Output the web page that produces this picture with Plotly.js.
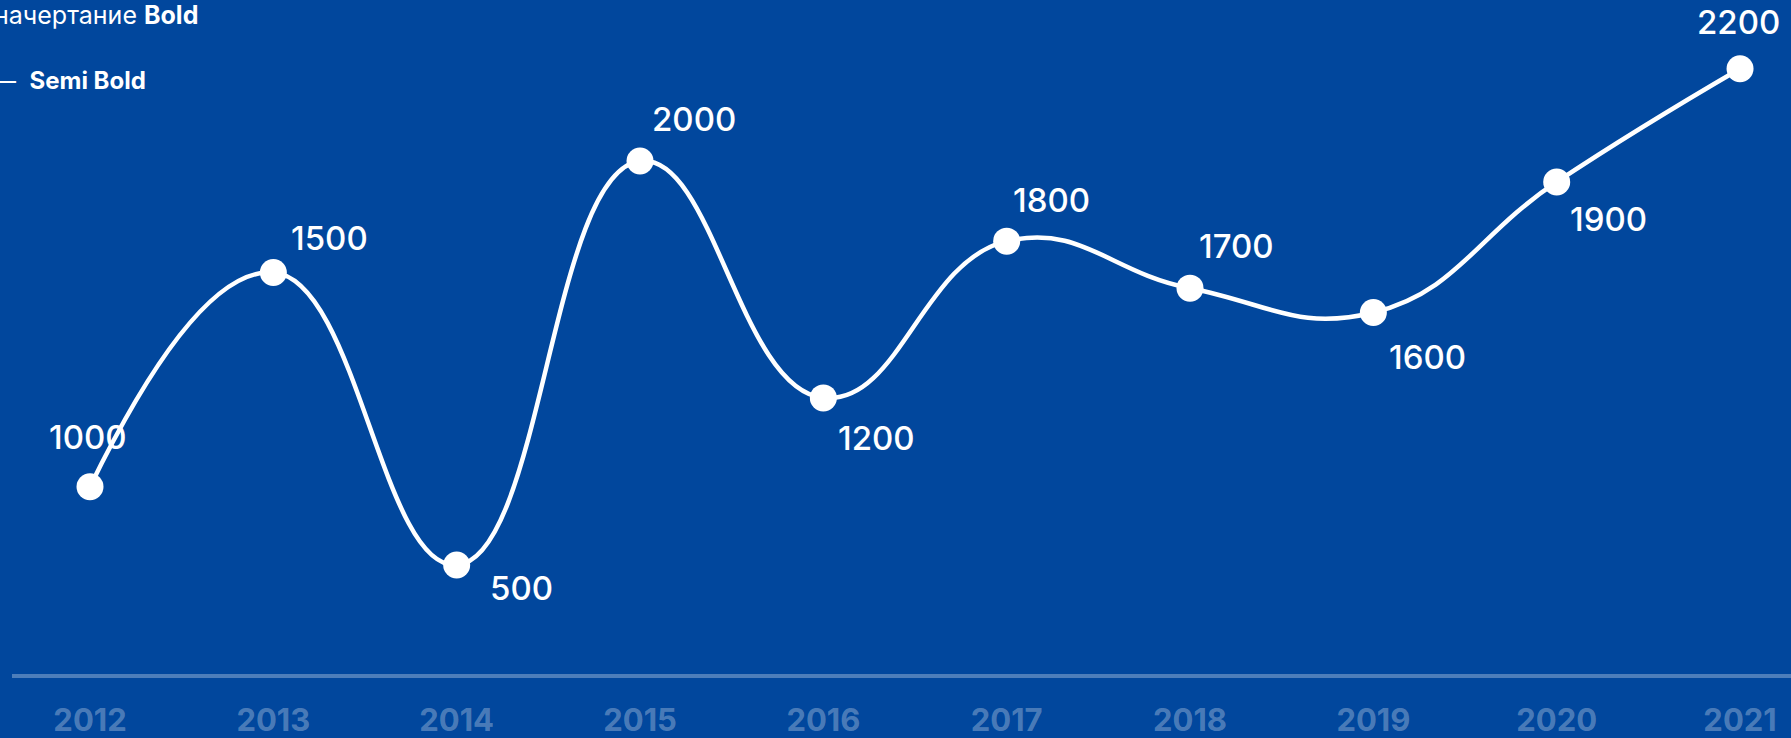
<!DOCTYPE html>
<html>
<head>
<meta charset="utf-8">
<script src="https://cdn.plot.ly/plotly-3.0.1.min.js"></script>
<style>
  html, body { margin: 0; padding: 0; background: #01479d; overflow: hidden; }
  #chart { width: 1791px; height: 738px; }
</style>
</head>
<body>
<div id="chart"></div>
<script>
// ---- data ----
const years = [2012, 2013, 2014, 2015, 2016, 2017, 2018, 2019, 2020, 2021];
const labels = [1000, 1500, 500, 2000, 1200, 1800, 1700, 1600, 1900, 2200];
// vertical level of each point as drawn in the picture (value-like units)
const levels = [1000, 1615, 775, 1935, 1255, 1705, 1570, 1500, 1875, 2200];
const tickLabels = ['2012', '2013', '2014', '2015', '2016', '2017', '2018', '2019', '2020', '2021'];

// ---- styling (label offsets in px relative to the point) ----
const labelDX = [-2, 56, 65, 54, 53, 45, 46, 54, 52, -2];
const labelDY = [50, 35, -23, 42, -40, 41, 42, -44, -37, 47];

const FONT = 'Inter, "Noto Sans", sans-serif';
const BG = '#01479d';

const trace = {
  x: years,
  y: levels,
  type: 'scatter',
  mode: 'lines+markers',
  line: { color: '#ffffff', width: 4.5, shape: 'spline', smoothing: 1.3 },
  marker: { color: '#ffffff', size: 27 },
  cliponaxis: false,
  hoverinfo: 'skip'
};

const annotations = years.map((yr, i) => ({
  x: yr, y: levels[i], xref: 'x', yref: 'y',
  text: String(labels[i]),
  showarrow: false,
  xanchor: 'center', yanchor: 'middle',
  xshift: labelDX[i], yshift: labelDY[i],
  font: { family: FONT, size: 33, color: '#ffffff', weight: 500 }
}));

annotations.push({
  xref: 'paper', yref: 'paper',
  x: (200 - 12) / 1779, y: 1 - 15 / 674,
  xanchor: 'right', yanchor: 'middle',
  text: 'начертание <b>Bold</b>',
  showarrow: false,
  font: { family: FONT, size: 25, color: '#ffffff' }
});
annotations.push({
  xref: 'paper', yref: 'paper',
  x: (148 - 12) / 1779, y: 1 - 80 / 674,
  xanchor: 'right', yanchor: 'middle',
  text: '—  <b>Semi Bold</b>',
  showarrow: false,
  font: { family: FONT, size: 24, color: '#ffffff' }
});

const layout = {
  width: 1791,
  height: 738,
  margin: { l: 12, r: 0, t: 0, b: 64, pad: 0 },
  paper_bgcolor: BG,
  plot_bgcolor: BG,
  showlegend: false,
  xaxis: {
    range: [2011.5745, 2021.278],
    tickmode: 'array',
    tickvals: years,
    ticktext: tickLabels,
    showgrid: false,
    zeroline: false,
    showline: true,
    linecolor: 'rgba(255,255,255,0.3)',
    linewidth: 4,
    ticks: '',
    ticklabelstandoff: 16,
    tickfont: { family: FONT, size: 31, color: 'rgba(255,255,255,0.3)', weight: 700 },
    fixedrange: true
  },
  yaxis: {
    range: [462.2, 2397.4],
    showgrid: false,
    zeroline: false,
    showline: false,
    showticklabels: false,
    ticks: '',
    fixedrange: true
  },
  annotations: annotations
};

Plotly.newPlot('chart', [trace], layout, { staticPlot: true, displayModeBar: false });
</script>
</body>
</html>
